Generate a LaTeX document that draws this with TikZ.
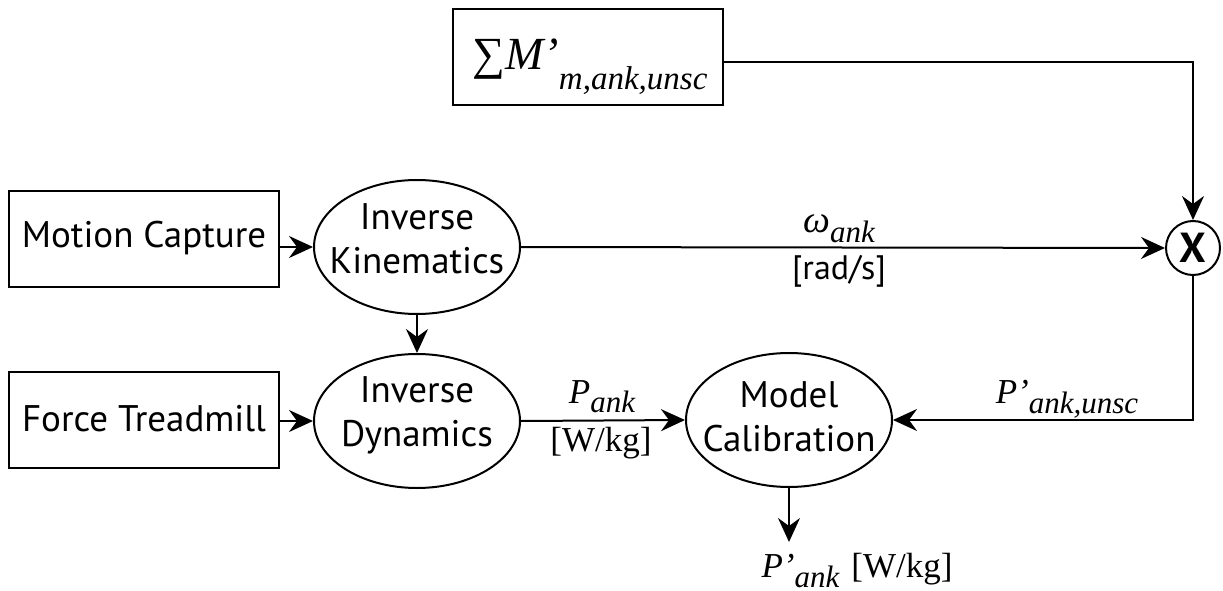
\documentclass[tikz,border=0pt]{standalone}
\usepackage{fontspec}
\setmainfont{PT Sans}
\newfontfamily\serifvar{Liberation Serif}
\usetikzlibrary{shapes.geometric,arrows.meta}
\newcommand{\vit}[2]{{\fontsize{#1}{#1}\selectfont\serifvar\itshape #2}}
\newcommand{\vsub}[3]{\raisebox{-#2}{\fontsize{#1}{#1}\selectfont\serifvar\itshape #3}}
\begin{document}
\begin{tikzpicture}[x=1pt,y=-1pt,
  box/.style={draw,line width=2pt,minimum width=270pt,minimum height=96pt,inner sep=0pt},
  oval/.style={draw,ellipse,line width=2pt,minimum width=206pt,minimum height=134pt,inner sep=0pt},
  lbl/.style={font=\fontsize{37}{44}\selectfont,align=center,inner sep=0pt},
  arr/.style={line width=2pt,-{Stealth[length=24pt,width=22pt,inset=8pt]}},
  tag/.style={inner sep=0pt,anchor=base}]
\useasboundingbox (0,0) rectangle (1223,591);
% nodes
\node[box] (sum) at (588,57) {};
\node[tag] at (590,70) {\vit{46pt}{\upshape ∑}\vit{46pt}{M’}\vsub{33pt}{20pt}{m,ank,unsc}};
\node[box] (mc) at (144,239) {};
\node[lbl] at (144,238) {Motion Capture};
\node[box] (ft) at (144,420) {};
\node[lbl] at (144,419) {Force Treadmill};
\node[oval] (ik) at (417,247) {};
\node[lbl] at (417,239) {Inverse\\Kinematics};
\node[oval] (id) at (417,421) {};
\node[lbl] at (417,415) {Inverse\\Dynamics};
\node[oval] (cal) at (789,420) {};
\node[lbl] at (789,417) {Model\\Calibration};
\node[circle,draw,line width=2pt,minimum size=54pt,inner sep=0pt,font=\fontsize{42}{42}\selectfont\bfseries] (mult) at (1193,248) {X};
% labels
\node[tag] at (839,232) {\vit{38pt}{ω}\vsub{31pt}{10pt}{ank}};
\node[tag] at (839,279) {\fontsize{34}{34}\selectfont [rad/s]};
\node[tag] at (602,403) {\vit{35pt}{P}\vsub{31pt}{9pt}{ank}};
\node[tag] at (601,451) {\fontsize{35}{35}\selectfont\serifvar [W/kg]};
\node[tag] at (1067,403) {\vit{35pt}{P’}\vsub{31pt}{10pt}{ank,unsc}};
\node[tag] (out) at (857,577) {\vit{35pt}{P’}\vsub{31pt}{10pt}{ank}\hspace{12pt}{\fontsize{35}{35}\selectfont\serifvar [W/kg]}};
% connectors
\draw[arr] (mc.east |- ik.west) -- (ik.west);
\draw[arr] (ft.east |- id.west) -- (id.west);
\draw[arr] (ik.south) -- (id.north);
\draw[arr] (ik.east) -- (mult.west);
\draw[arr] (id.east) -- (cal.west);
\draw[arr] ([yshift=-5pt]sum.east) -| (mult.north);
\draw[arr] (mult.south) |- (cal.east);
\coordinate (outtop) at (cal.south |- 0,542);
\draw[arr] (cal.south) -- (outtop);
\end{tikzpicture}
\end{document}
